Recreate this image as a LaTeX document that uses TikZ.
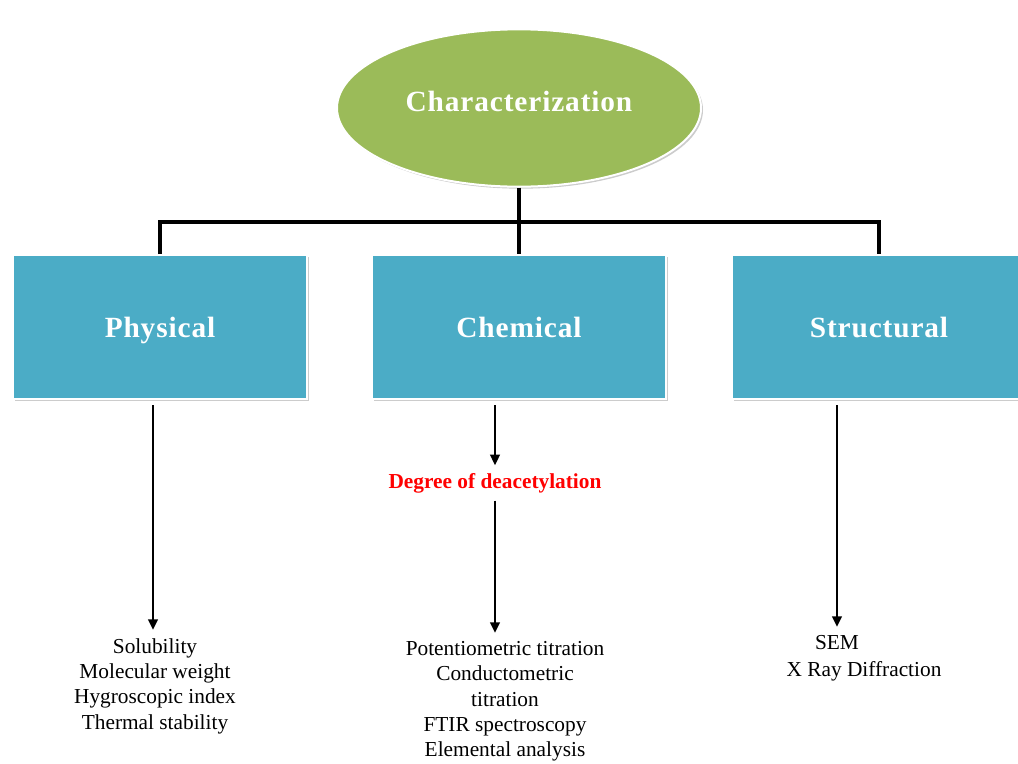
\documentclass[tikz,border=0pt]{standalone}
\usepackage{fontspec}
\setmainfont{Liberation Serif}
\newfontfamily\hdrfont[LetterSpace=3]{Liberation Serif}
\usetikzlibrary{shapes.geometric,shadows,arrows.meta,positioning}
\definecolor{topgreen}{HTML}{9BBB59}
\definecolor{boxblue}{HTML}{4BACC6}
\tikzset{
  hdr/.style={font=\hdrfont\fontsize{22}{26}\selectfont\bfseries, text=white, text height=18pt, text depth=2pt},
  catbox/.style={rectangle, fill=boxblue, draw=white, line width=1.5pt,
    minimum width=220.5pt, minimum height=108pt, hdr,
    drop shadow={shadow xshift=1.5pt, shadow yshift=-1.5pt, opacity=0.2, fill=black}},
  topell/.style={ellipse, fill=topgreen, draw=white, line width=1.5pt,
    minimum width=273pt, minimum height=118pt, hdr,
    drop shadow={shadow xshift=1.5pt, shadow yshift=-1.5pt, opacity=0.2, fill=black}},
  conn/.style={draw=black, line width=2.8pt},
  arr/.style={draw=black, line width=2.1pt, -{Triangle[length=8pt,width=7pt]}},
  listtext/.style={font=\fontsize{16}{19}\selectfont, align=center, inner xsep=0pt, inner ysep=6pt, anchor=north},
  redlabel/.style={font=\fontsize{16}{19}\selectfont\bfseries, text=red, inner xsep=0pt, minimum height=26pt}
}
\begin{document}
\begin{tikzpicture}[x=0.75pt,y=-0.75pt]
\useasboundingbox (0,0) rectangle (1018,764);
\fill[white] (0,0) rectangle (1018,764);

\node[topell] (top) at (519,108) {\raisebox{5.5pt}{Characterization}};
\node[catbox] (phys) at (160,327) {Physical};
\node[catbox] (chem) at (519,327) {Chemical};
\node[catbox] (struct) at (879,327) {Structural};

\coordinate (j) at (519,222);
\draw[conn] (top.south) -- (chem.north);
\draw[conn] (phys.north) |- (j) -| (struct.north);

\node[redlabel] (deg) at (495,483) {Degree of deacetylation};

\node[listtext] (physlist) at (155,630) {Solubility\\Molecular weight\\Hygroscopic index\\Thermal stability};
\node[listtext] (chemlist) at (505,633) {Potentiometric titration\\Conductometric\\titration\\FTIR spectroscopy\\Elemental analysis};
\node[listtext] (sem) at (837,627) {SEM};
\node[font=\fontsize{16}{19}\selectfont, inner sep=0pt] (xray) at (864,671) {X Ray Diffraction};

\draw[arr] ([yshift=-4pt]phys.south -| 153,0) -- (153,0 |- physlist.north);
\draw[arr] ([yshift=-4pt]chem.south -| deg.north) -- (deg.north);
\draw[arr] (deg.south) -- (deg.south |- chemlist.north);
\draw[arr] ([yshift=-4pt]struct.south -| sem.north) -- (sem.north);
\end{tikzpicture}
\end{document}
